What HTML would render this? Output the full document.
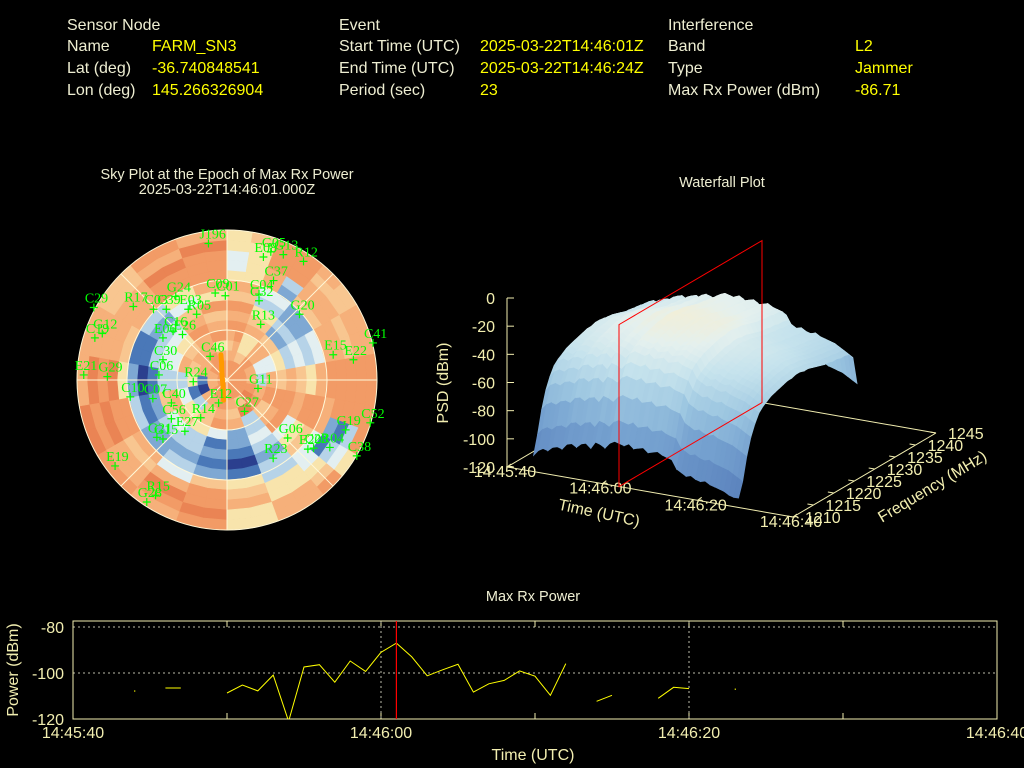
<!DOCTYPE html>
<html><head><meta charset="utf-8"><style>
html,body{margin:0;padding:0;background:#000;}
svg{display:block;font-family:"Liberation Sans",sans-serif;}
</style></head><body>
<svg id="root" width="1024" height="768" viewBox="0 0 1024 768">
<rect width="1024" height="768" fill="#000"/>
<g font-size="16">
 <text x="67" y="30" fill="#eeeed2">Sensor Node</text>
 <text x="67" y="51" fill="#eeeed2">Name</text>
 <text x="152" y="51" fill="#ffff00">FARM_SN3</text>
 <text x="67" y="73" fill="#eeeed2">Lat (deg)</text>
 <text x="152" y="73" fill="#ffff00">-36.740848541</text>
 <text x="67" y="95" fill="#eeeed2">Lon (deg)</text>
 <text x="152" y="95" fill="#ffff00">145.266326904</text>
 <text x="339" y="30" fill="#eeeed2">Event</text>
 <text x="339" y="51" fill="#eeeed2">Start Time (UTC)</text>
 <text x="480" y="51" fill="#ffff00">2025-03-22T14:46:01Z</text>
 <text x="339" y="73" fill="#eeeed2">End Time (UTC)</text>
 <text x="480" y="73" fill="#ffff00">2025-03-22T14:46:24Z</text>
 <text x="339" y="95" fill="#eeeed2">Period (sec)</text>
 <text x="480" y="95" fill="#ffff00">23</text>
 <text x="668" y="30" fill="#eeeed2">Interference</text>
 <text x="668" y="51" fill="#eeeed2">Band</text>
 <text x="855" y="51" fill="#ffff00">L2</text>
 <text x="668" y="73" fill="#eeeed2">Type</text>
 <text x="855" y="73" fill="#ffff00">Jammer</text>
 <text x="668" y="95" fill="#eeeed2">Max Rx Power (dBm)</text>
 <text x="855" y="95" fill="#ffff00">-86.71</text>
</g>
<g font-size="14.5" fill="#eeeed2" text-anchor="middle">
 <text x="227" y="179">Sky Plot at the Epoch of Max Rx Power</text>
 <text x="227" y="194">2025-03-22T14:46:01.000Z</text>
 <text x="722" y="187">Waterfall Plot</text>
 <text x="533" y="601">Max Rx Power</text>
</g>
<g id="sky"></g>
<g id="wf"></g>
<g id="ts"></g>
</svg>
<script>
const NS="http://www.w3.org/2000/svg";
function mk(p,tag,at){const e=document.createElementNS(NS,tag);for(const k in at)e.setAttribute(k,at[k]);p.appendChild(e);return e;}

/* ---------------- Sky plot data ---------------- */
const skyRings=[
"888888888888888888888888888888888888",
"888888888888888888888888777777888888",
"776688777788996677887777001177778877",
"675577443377889966776633115566777755",
"785577447788663377886655443377667788",
"887766556688773322445566773344558877",
"776622337788884422113344663344447766",
"885533446677443311223333221133336688",
"663322335588552200112222110011224455",
"774422447788663311223322332211335577",
"557266778877443355664477885566778888",
"457377778882145566887766889977778888",
"458877668881355577889977998877779988",
"558866778883467755998877889977667799",
"568876778888587755887788997777668877"];
const satNames=["J196","E08","G05","G13","R12","C37","C09","C01","C04","C32","G24","C29","R17","C03","C39","E03","R05","G20","R13","G12","C19","C16","E26","E06","C41","E15","E22","C46","C30","E21","G29","C06","R24","G11","C10","C07","C40","E12","C27","C56","R14","E27","C52","G19","G21","G15","G06","E20","C23","R04","C38","R23","E19","R15","G28"];
const satEast=[-55,108,130,167,227,138,-35,-5,95,95,-152,-395,-278,-218,-180,-115,-90,215,100,-370,-392,-160,-132,-190,433,315,375,-50,-190,-425,-355,-202,-100,92,-287,-220,-165,-25,52,-165,-78,-125,425,352,-208,-190,180,240,257,305,385,137,-332,-212,-238];
const satNorth=[405,365,380,372,352,295,258,250,255,235,248,215,218,210,210,210,195,195,165,138,125,145,135,125,110,75,60,70,60,15,10,15,-5,-25,-50,-55,-68,-68,-93,-115,-112,-152,-127,-148,-170,-175,-172,-205,-202,-200,-225,-232,-255,-342,-362];
const trackEast=[-18,-16,-15,-13,-12,-11,-10];
const trackNorth=[75,50,20,-5,-20,-40,-60];
const skyPalette=["#2b3f8e","#4a78b8","#7ea8d3","#b6d3e8","#e3eff1","#f8e4ac","#f8c690","#f6b07a","#f29b66","#ea8454"];

(function(){
 const g=document.getElementById('sky');
 const cx=227,cy=380,R=150,nR=skyRings.length;
 for(let i=0;i<nR;i++){
  const r0=R*i/nR,r1=R*(i+1)/nR,row=skyRings[i],n=row.length;
  for(let s=0;s<n;s++){
   const a0=(s*360/n-90)*Math.PI/180,a1=((s+1)*360/n-90)*Math.PI/180;
   const p=[[r0,a0],[r1,a0],[r1,a1],[r0,a1]].map(([r,a])=>(cx+r*Math.cos(a)).toFixed(1)+","+(cy+r*Math.sin(a)).toFixed(1)).join(" ");
   const c=skyPalette[+row[s]];
   const e=mk(g,'polygon',{points:p,fill:c,stroke:c,'stroke-width':0.6});
   
   
  }
 }
 [50,100,150].forEach(r=>{const e=mk(g,'circle',{cx,cy,r,fill:'none',stroke:'#fff8d8','stroke-width':1});
  });
 for(let k=0;k<8;k++){const a=k*Math.PI/4;
  const e=mk(g,'line',{x1:cx,y1:cy,x2:cx+R*Math.cos(a),y2:cy+R*Math.sin(a),stroke:'#fff8d8','stroke-width':1});
  }
 const sc=R/445;
 const tp=trackEast.map((e,i)=>(cx+e*sc).toFixed(1)+","+(cy-trackNorth[i]*sc).toFixed(1)).join(" ");
 const tr=mk(g,'polyline',{points:tp,fill:'none',stroke:'#ff9a00','stroke-width':5,'stroke-linecap':'round'});
 
 satNames.forEach((nm,i)=>{
  const x=cx+satEast[i]*sc,y=cy-satNorth[i]*sc;
  const m=mk(g,'path',{d:`M${x-4},${y}H${x+4}M${x},${y-4}V${y+4}`,stroke:'#00ff00','stroke-width':1.2});
  
  const t=mk(g,'text',{x:x-9,y:y-5,fill:'#00ff00','font-size':14,'font-family':'"Liberation Serif",serif'});
  t.textContent=nm;
  
 });
})();

/* ---------------- Waterfall data ---------------- */
const wfFreqs=[1213,1214,1215,1216,1217,1218,1219,1220,1221,1222,1223,1224,1225,1226,1227,1228,1229,1230,1231,1232,1233,1234,1235,1236,1237,1238,1239,1240,1241,1242];
const wfSpectrum=[-95,-82,-66,-54,-46,-40,-37,-35,-33,-32,-31,-30,-29,-29,-28,-28,-29,-29,-30,-31,-32,-33,-33,-34,-34,-35,-35,-36,-40,-60];
const wfTimes=[3,4,5,6,7,8,9,10,11,12,13,14,15,16,17,18,19,20,21,22,23,24,25,26,27,28,29,30,31,32,33,34,35,36,37,38,39,40,41,42,43,44,45,46];
const wfOffsets=[-20,-16,-14,-15,-12,-11,-12,-8,-7,-9,-6,-5,-8,-3,-4,-6,-2,0,-1,-2,0,-3,-2,-1,-4,-3,-2,-4,-5,-6,-12,-14,-16,-15,-17,-18,-17,-19,-20,-21,-22,-24,-26,-28];
const wfZTicks=[0,-20,-40,-60,-80,-100,-120];
const wfTimeTicks=["14:45:40","14:46:00","14:46:20","14:46:40"];
const wfFreqTicks=[1210,1215,1220,1225,1230,1235,1240,1245];
const wfPlaneTime=23.5;

(function(){
 const g=document.getElementById('wf');
 const O={x:507,y:467}, TV={x:286/60,y:50/60}, FV={x:143/35,y:-84/35}, ZS=169/120;
 const P=(t,f,z)=>({x:O.x+t*TV.x+(f-1210)*FV.x, y:O.y+t*TV.y+(f-1210)*FV.y-(z+120)*ZS});
 const ax='#f2eeb0';
 function line(a,b,c,nm){const e=mk(g,'line',{x1:a.x,y1:a.y,x2:b.x,y2:b.y,stroke:c,'stroke-width':1});
  return e;}
 line(P(0,1210,-120),P(60,1210,-120),ax,'time-axis');
 line(P(60,1210,-120),P(60,1245,-120),ax,'frequency-axis');
 line(P(0,1245,-120),P(60,1245,-120),ax,'back-edge');
 line(P(0,1210,-120),P(0,1245,-120),ax,'left-edge');
 line(P(0,1210,-120),P(0,1210,0),ax,'z-axis');
 wfZTicks.forEach(z=>{const p=P(0,1210,z);line(p,{x:p.x+7,y:p.y},ax,'z-tick');
  const t=mk(g,'text',{x:p.x-12,y:p.y+6,fill:'#f2eeb0','font-size':16,'text-anchor':'end'});t.textContent=z;
  });
 wfTimeTicks.forEach((lb,i)=>{const p=P(i*20,1210,-120);line(p,{x:p.x+4,y:p.y-3},ax,'time-tick');
  const t=mk(g,'text',{x:p.x-2,y:p.y+10,fill:'#f2eeb0','font-size':16,'text-anchor':'middle'});t.textContent=lb;
  });
 wfFreqTicks.forEach(f=>{const p=P(60,f,-120);line(p,{x:p.x-6,y:p.y-1},ax,'freq-tick');
  const t=mk(g,'text',{x:p.x+12,y:p.y+6,fill:'#f2eeb0','font-size':16});t.textContent=f;
  });
 const zt=mk(g,'text',{x:0,y:0,fill:'#f2eeb0','font-size':16,'text-anchor':'middle',transform:'translate(448,383) rotate(-90)'});
 zt.textContent='PSD (dBm)';
 const tt=mk(g,'text',{x:0,y:0,fill:'#f2eeb0','font-size':16,'text-anchor':'middle',transform:'translate(598,518) rotate(12)'});
 tt.textContent='Time (UTC)';
 const ft=mk(g,'text',{x:0,y:0,fill:'#f2eeb0','font-size':16,'text-anchor':'middle',transform:'translate(935,491) rotate(-31)'});
 ft.textContent='Frequency (MHz)';
 const rb=[P(wfPlaneTime,1210,-120),P(wfPlaneTime,1245,-120),P(wfPlaneTime,1245,-5),P(wfPlaneTime,1210,-5)];
 const stops=[[-115,[92,132,190]],[-90,[118,162,208]],[-70,[155,197,224]],[-50,[198,227,237]],[-36,[228,240,238]],[-24,[248,238,205]]];
 function col(z){if(z<=stops[0][0])return stops[0][1];for(let i=1;i<stops.length;i++){if(z<=stops[i][0]){const a=stops[i-1],b=stops[i],u=(z-a[0])/(b[0]-a[0]);return a[1].map((v,k)=>Math.round(v+(b[1][k]-v)*u));}}return stops[stops.length-1][1];}
 const Z=(ti,fi)=>Math.max(-120,wfSpectrum[fi]+wfOffsets[ti]);
 for(let fi=wfFreqs.length-2;fi>=0;fi--){
  for(let ti=0;ti<wfTimes.length-1;ti++){
   const c=[[ti,fi],[ti+1,fi],[ti+1,fi+1],[ti,fi+1]];
   const pts=c.map(([a,b])=>P(wfTimes[a],wfFreqs[b],Z(a,b)));
   const zm=c.reduce((s,[a,b])=>s+Z(a,b),0)/4;
   const cc='rgb('+col(zm).join(',')+')';
   const e=mk(g,'polygon',{points:pts.map(p=>p.x.toFixed(1)+','+p.y.toFixed(1)).join(' '),fill:cc,stroke:cc,'stroke-width':0.8});
   
  }
 }
 const rp=rb.map(p=>p.x.toFixed(1)+','+p.y.toFixed(1)).join(' ');
 const red=mk(g,'polygon',{points:rp,fill:'none',stroke:'#ff0000','stroke-width':1});
 
})();

/* ---------------- Max Rx Power time series ---------------- */
const tsSeconds=[4,6,7,10,11,12,13,14,15,16,17,18,19,20,21,22,23,24,25,26,27,28,29,30,31,32,34,35,38,39,40,43];
const tsPower=[-107.8,-106.5,-106.5,-108.7,-105.2,-107.8,-100.9,-121,-97.4,-96.4,-104,-94.8,-99.3,-91,-87,-93,-101.2,-98.6,-96.2,-108.3,-104.7,-103.2,-99.1,-101.4,-109.7,-95.9,-112.3,-109.7,-111,-106.2,-106.8,-107];
const tsXTicks=["14:45:40","14:46:00","14:46:20","14:46:40"];
const tsYTicks=[-80,-100,-120];
const tsEpoch=21;

(function(){
 const g=document.getElementById('ts');
 const x0=73,x1=997,yTop=621,yBot=719;
 const X=s=>x0+(x1-x0)*s/60;
 const Y=v=>627+(v+80)*(719-627)/(-40);
 const ax='#f2eeb0';
 const clip=mk(g,'clipPath',{id:'tsclip'});mk(clip,'rect',{x:x0,y:yTop,width:x1-x0,height:yBot-yTop});
 tsYTicks.forEach(v=>{
  if(v>-120){const e=mk(g,'line',{x1:x0,y1:Y(v),x2:x1,y2:Y(v),stroke:'#bbbbaa','stroke-dasharray':'2,3','stroke-width':1});
   }
  const t=mk(g,'text',{x:x0-9,y:Y(v)+6,fill:ax,'font-size':16,'text-anchor':'end'});t.textContent=v;
  
 });
 for(let s=10;s<60;s+=10){const e=mk(g,'line',{x1:X(s),y1:yBot,x2:X(s),y2:yBot-6,stroke:ax});
  
  const e2=mk(g,'line',{x1:X(s),y1:yTop,x2:X(s),y2:yTop+6,stroke:ax});
  }
 [20,40].forEach(s=>{const e=mk(g,'line',{x1:X(s),y1:yTop,x2:X(s),y2:yBot,stroke:'#bbbbaa','stroke-dasharray':'2,3'});
  });
 tsXTicks.forEach((lb,i)=>{const t=mk(g,'text',{x:X(i*20),y:738,fill:ax,'font-size':16,'text-anchor':'middle'});t.textContent=lb;
  });
 const box=mk(g,'rect',{x:x0,y:yTop,width:x1-x0,height:yBot-yTop,fill:'none',stroke:ax,'stroke-width':1});
 
 let seg=[];const segs=[];
 tsSeconds.forEach((s,i)=>{if(i>0&&s-tsSeconds[i-1]>1){segs.push(seg);seg=[];}seg.push([X(s),Y(tsPower[i])]);});
 segs.push(seg);
 segs.forEach(sg=>{
  if(sg.length===1){const d=mk(g,'rect',{x:sg[0][0]-0.5,y:sg[0][1]-0.5,width:1.2,height:1.2,fill:'#ffff00'});
   return;}
  const e=mk(g,'polyline',{points:sg.map(p=>p[0].toFixed(1)+','+p[1].toFixed(1)).join(' '),fill:'none',stroke:'#ffff00','stroke-width':1,'clip-path':'url(#tsclip)'});
  
 });
 const r=mk(g,'line',{x1:X(tsEpoch),y1:yTop,x2:X(tsEpoch),y2:yBot,stroke:'#ff0000','stroke-width':1.2});
 
 const xt=mk(g,'text',{x:533,y:760,fill:ax,'font-size':16,'text-anchor':'middle'});xt.textContent='Time (UTC)';
 
 const yt=mk(g,'text',{x:0,y:0,fill:ax,'font-size':16,'text-anchor':'middle',transform:'translate(18,670) rotate(-90)'});yt.textContent='Power (dBm)';
 
})();
</script>
</body></html>
